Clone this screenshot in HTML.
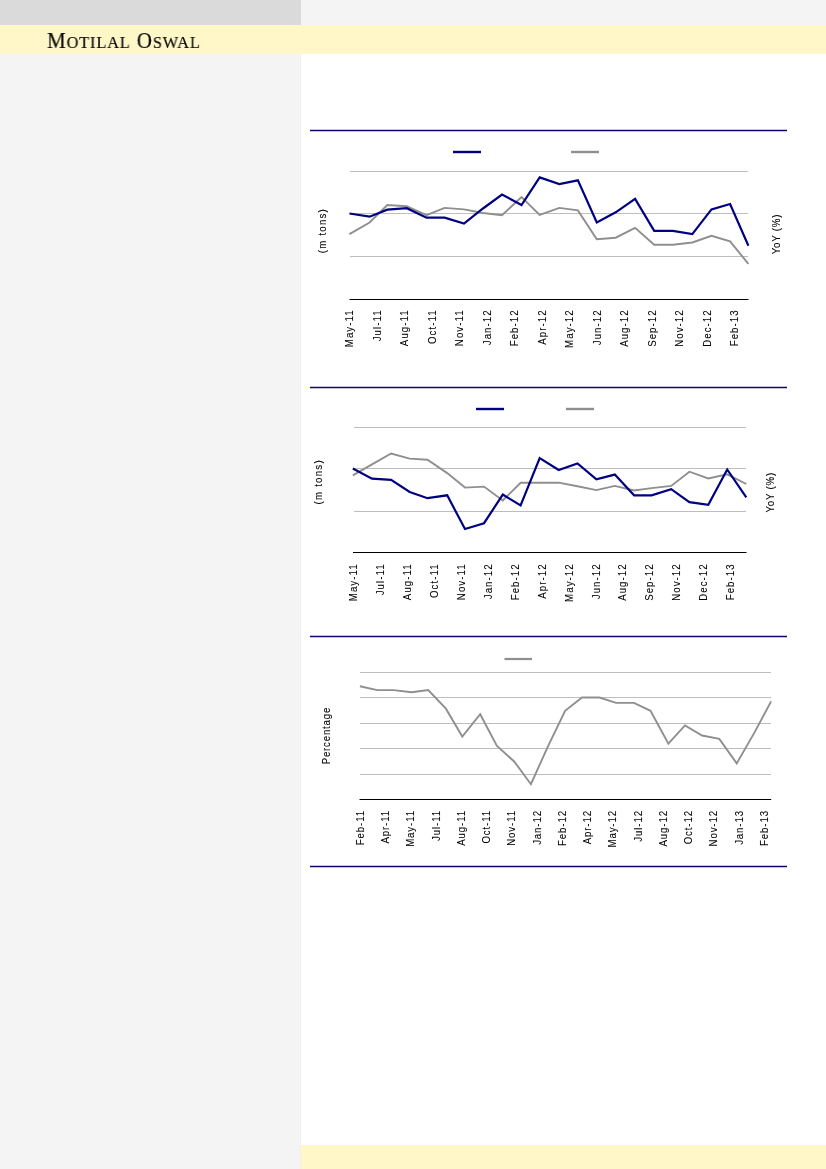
<!DOCTYPE html>
<html><head><meta charset="utf-8">
<style>
html,body{margin:0;padding:0;}
body{width:826px;height:1169px;position:relative;overflow:hidden;background:#fff;font-family:"Liberation Sans", sans-serif;}
.blk{position:absolute;}
#logo{will-change:transform;position:absolute;left:47px;top:25px;height:29px;font-family:"Liberation Serif",serif;color:#0d0b0b;-webkit-text-stroke:0.2px #0d0b0b;white-space:nowrap;}
#logo span{position:absolute;top:0;line-height:1;}
svg{position:absolute;left:0;top:0;}
svg text{font-family:"Liberation Sans", sans-serif;font-size:11px;fill:#000;stroke:#000;stroke-width:0.08px;}
</style></head><body>
<div class="blk" style="left:0;top:0;width:301px;height:1169px;background:#f4f4f4"></div>
<div class="blk" style="left:0;top:0;width:301px;height:25px;background:#dadada"></div>
<div class="blk" style="left:300px;top:54px;width:1px;height:1115px;background:#efefef"></div>
<div class="blk" style="left:301px;top:0;width:525px;height:25px;background:#f4f4f4"></div>
<div class="blk" style="left:0;top:25px;width:826px;height:29px;background:#fff7c8"></div>
<div class="blk" style="left:301px;top:1145px;width:525px;height:24px;background:#fff7c8"></div>
<div id="logo"><span id="lg" style="left:-0.5px;top:5px;font-size:22.3px;letter-spacing:0.9px;transform-origin:0 0;transform:scaleX(0.945)">M<span style="position:static;font-size:17.3px">OTILAL</span> O<span style="position:static;font-size:17.3px">SWAL</span></span></div>
<svg width="826" height="1169" viewBox="0 0 826 1169">
<line x1="310" y1="130.5" x2="787" y2="130.5" stroke="#170070" stroke-width="1.3"/>
<line x1="310" y1="387.5" x2="787" y2="387.5" stroke="#170070" stroke-width="1.3"/>
<line x1="310" y1="636.5" x2="787" y2="636.5" stroke="#170070" stroke-width="1.3"/>
<line x1="310" y1="866.5" x2="787" y2="866.5" stroke="#170070" stroke-width="1.3"/>
<line x1="350" y1="171.5" x2="748" y2="171.5" stroke="#bebebe" stroke-width="1.0"/>
<line x1="350" y1="213.5" x2="748" y2="213.5" stroke="#bebebe" stroke-width="1.0"/>
<line x1="350" y1="256.5" x2="748" y2="256.5" stroke="#bebebe" stroke-width="1.0"/>
<line x1="349.5" y1="299.5" x2="748.5" y2="299.5" stroke="#000" stroke-width="1.15"/>
<polyline points="349.40,234.10 369.60,222.50 387.30,205.00 406.80,206.20 426.50,215.20 444.60,207.90 464.00,209.40 483.00,213.00 502.00,215.20 521.50,197.00 539.70,214.90 559.30,207.90 577.90,210.40 596.80,239.20 615.70,237.70 635.10,227.80 654.20,244.70 672.90,244.70 692.30,242.50 711.50,235.80 730.10,241.40 748.40,263.90" fill="none" stroke="#8f8f8f" stroke-width="1.9" stroke-linejoin="miter" stroke-miterlimit="3"/>
<polyline points="349.40,213.50 369.60,216.70 387.30,209.70 406.80,208.20 426.50,217.70 444.60,217.70 464.00,223.50 483.00,208.50 502.00,194.60 521.50,205.00 539.70,177.40 559.30,184.00 577.90,180.30 596.80,222.50 615.70,212.30 635.10,198.90 654.20,230.90 672.90,230.90 692.30,234.10 711.50,209.40 730.10,204.00 748.40,245.70" fill="none" stroke="#000080" stroke-width="2.2" stroke-linejoin="miter" stroke-miterlimit="3"/>
<line x1="453" y1="152" x2="481" y2="152" stroke="#000080" stroke-width="2.4"/>
<line x1="571" y1="152" x2="599" y2="152" stroke="#8f8f8f" stroke-width="2.4"/>
<line x1="354" y1="427.5" x2="746" y2="427.5" stroke="#bebebe" stroke-width="1.0"/>
<line x1="354" y1="468.5" x2="746" y2="468.5" stroke="#bebebe" stroke-width="1.0"/>
<line x1="354" y1="511.5" x2="746" y2="511.5" stroke="#bebebe" stroke-width="1.0"/>
<line x1="353" y1="552.5" x2="746.5" y2="552.5" stroke="#000" stroke-width="1.15"/>
<polyline points="352.80,475.30 372.00,464.40 391.10,453.50 409.70,458.60 427.50,459.70 447.20,473.10 465.00,487.60 484.00,486.60 502.80,500.40 520.60,482.80 539.70,482.80 558.70,482.60 577.50,486.20 596.40,490.10 614.80,485.90 634.10,490.50 651.60,488.10 671.20,485.90 689.40,471.70 708.30,478.50 727.20,474.30 746.30,484.00" fill="none" stroke="#8f8f8f" stroke-width="1.9" stroke-linejoin="miter" stroke-miterlimit="3"/>
<polyline points="352.80,468.50 372.00,478.60 391.10,479.90 409.70,492.00 427.50,498.20 447.20,495.30 465.00,529.00 484.00,523.20 502.80,494.60 520.60,505.50 539.70,458.10 558.70,470.00 577.50,463.40 596.40,479.40 614.80,474.60 634.10,495.30 651.60,495.30 671.20,489.10 689.40,502.20 708.30,504.80 727.20,469.50 746.30,497.40" fill="none" stroke="#000080" stroke-width="2.2" stroke-linejoin="miter" stroke-miterlimit="3"/>
<line x1="476" y1="409" x2="504" y2="409" stroke="#000080" stroke-width="2.4"/>
<line x1="566" y1="409" x2="594" y2="409" stroke="#8f8f8f" stroke-width="2.4"/>
<line x1="360" y1="672.5" x2="771" y2="672.5" stroke="#bebebe" stroke-width="1.0"/>
<line x1="360" y1="697.5" x2="771" y2="697.5" stroke="#bebebe" stroke-width="1.0"/>
<line x1="360" y1="723.5" x2="771" y2="723.5" stroke="#bebebe" stroke-width="1.0"/>
<line x1="360" y1="748.5" x2="771" y2="748.5" stroke="#bebebe" stroke-width="1.0"/>
<line x1="360" y1="774.5" x2="771" y2="774.5" stroke="#bebebe" stroke-width="1.0"/>
<line x1="359.5" y1="799.5" x2="771.2" y2="799.5" stroke="#000" stroke-width="1.15"/>
<polyline points="359.90,686.20 377.30,690.10 393.60,690.10 411.70,692.30 428.20,690.10 445.90,708.70 462.30,736.60 480.20,714.20 496.80,745.70 514.40,761.70 530.90,784.20 547.60,747.20 565.10,710.80 582.00,697.50 599.40,697.50 616.10,702.90 634.00,702.90 650.50,710.80 668.35,743.70 685.00,725.40 702.10,735.50 719.30,738.90 736.70,763.40 754.40,732.60 771.10,701.40" fill="none" stroke="#8f8f8f" stroke-width="1.9" stroke-linejoin="miter" stroke-miterlimit="3"/>
<line x1="504.5" y1="659" x2="532" y2="659" stroke="#8f8f8f" stroke-width="2.2"/>
</svg>
<svg width="826" height="1169" viewBox="0 0 826 1169" style="will-change:transform">
<text transform="translate(353.28,309.30) rotate(-90) scale(0.88,1)" text-anchor="end" letter-spacing="1.2">May-11</text>
<text transform="translate(380.76,309.30) rotate(-90) scale(0.88,1)" text-anchor="end" letter-spacing="1.2">Jul-11</text>
<text transform="translate(408.24,309.30) rotate(-90) scale(0.88,1)" text-anchor="end" letter-spacing="1.2">Aug-11</text>
<text transform="translate(435.72,309.30) rotate(-90) scale(0.88,1)" text-anchor="end" letter-spacing="1.2">Oct-11</text>
<text transform="translate(463.20,309.30) rotate(-90) scale(0.88,1)" text-anchor="end" letter-spacing="1.2">Nov-11</text>
<text transform="translate(490.68,309.30) rotate(-90) scale(0.88,1)" text-anchor="end" letter-spacing="1.2">Jan-12</text>
<text transform="translate(518.16,309.30) rotate(-90) scale(0.88,1)" text-anchor="end" letter-spacing="1.2">Feb-12</text>
<text transform="translate(545.64,309.30) rotate(-90) scale(0.88,1)" text-anchor="end" letter-spacing="1.2">Apr-12</text>
<text transform="translate(573.12,309.30) rotate(-90) scale(0.88,1)" text-anchor="end" letter-spacing="1.2">May-12</text>
<text transform="translate(600.60,309.30) rotate(-90) scale(0.88,1)" text-anchor="end" letter-spacing="1.2">Jun-12</text>
<text transform="translate(628.08,309.30) rotate(-90) scale(0.88,1)" text-anchor="end" letter-spacing="1.2">Aug-12</text>
<text transform="translate(655.56,309.30) rotate(-90) scale(0.88,1)" text-anchor="end" letter-spacing="1.2">Sep-12</text>
<text transform="translate(683.04,309.30) rotate(-90) scale(0.88,1)" text-anchor="end" letter-spacing="1.2">Nov-12</text>
<text transform="translate(710.52,309.30) rotate(-90) scale(0.88,1)" text-anchor="end" letter-spacing="1.2">Dec-12</text>
<text transform="translate(738.00,309.30) rotate(-90) scale(0.88,1)" text-anchor="end" letter-spacing="1.2">Feb-13</text>
<text transform="translate(325.70,230.60) rotate(-90) scale(0.88,1)" text-anchor="middle" letter-spacing="1.4">(m tons)</text>
<text transform="translate(779.70,234.00) rotate(-90) scale(0.88,1)" text-anchor="middle" letter-spacing="0.9">YoY (%)</text>
<text transform="translate(356.88,563.30) rotate(-90) scale(0.88,1)" text-anchor="end" letter-spacing="1.2">May-11</text>
<text transform="translate(383.84,563.30) rotate(-90) scale(0.88,1)" text-anchor="end" letter-spacing="1.2">Jul-11</text>
<text transform="translate(410.80,563.30) rotate(-90) scale(0.88,1)" text-anchor="end" letter-spacing="1.2">Aug-11</text>
<text transform="translate(437.76,563.30) rotate(-90) scale(0.88,1)" text-anchor="end" letter-spacing="1.2">Oct-11</text>
<text transform="translate(464.72,563.30) rotate(-90) scale(0.88,1)" text-anchor="end" letter-spacing="1.2">Nov-11</text>
<text transform="translate(491.68,563.30) rotate(-90) scale(0.88,1)" text-anchor="end" letter-spacing="1.2">Jan-12</text>
<text transform="translate(518.64,563.30) rotate(-90) scale(0.88,1)" text-anchor="end" letter-spacing="1.2">Feb-12</text>
<text transform="translate(545.60,563.30) rotate(-90) scale(0.88,1)" text-anchor="end" letter-spacing="1.2">Apr-12</text>
<text transform="translate(572.56,563.30) rotate(-90) scale(0.88,1)" text-anchor="end" letter-spacing="1.2">May-12</text>
<text transform="translate(599.52,563.30) rotate(-90) scale(0.88,1)" text-anchor="end" letter-spacing="1.2">Jun-12</text>
<text transform="translate(626.48,563.30) rotate(-90) scale(0.88,1)" text-anchor="end" letter-spacing="1.2">Aug-12</text>
<text transform="translate(653.44,563.30) rotate(-90) scale(0.88,1)" text-anchor="end" letter-spacing="1.2">Sep-12</text>
<text transform="translate(680.40,563.30) rotate(-90) scale(0.88,1)" text-anchor="end" letter-spacing="1.2">Nov-12</text>
<text transform="translate(707.36,563.30) rotate(-90) scale(0.88,1)" text-anchor="end" letter-spacing="1.2">Dec-12</text>
<text transform="translate(734.32,563.30) rotate(-90) scale(0.88,1)" text-anchor="end" letter-spacing="1.2">Feb-13</text>
<text transform="translate(321.70,481.80) rotate(-90) scale(0.88,1)" text-anchor="middle" letter-spacing="1.4">(m tons)</text>
<text transform="translate(773.60,492.30) rotate(-90) scale(0.88,1)" text-anchor="middle" letter-spacing="0.9">YoY (%)</text>
<text transform="translate(363.98,810.00) rotate(-90) scale(0.88,1)" text-anchor="end" letter-spacing="1.0">Feb-11</text>
<text transform="translate(389.22,810.00) rotate(-90) scale(0.88,1)" text-anchor="end" letter-spacing="1.0">Apr-11</text>
<text transform="translate(414.46,810.00) rotate(-90) scale(0.88,1)" text-anchor="end" letter-spacing="1.0">May-11</text>
<text transform="translate(439.70,810.00) rotate(-90) scale(0.88,1)" text-anchor="end" letter-spacing="1.0">Jul-11</text>
<text transform="translate(464.94,810.00) rotate(-90) scale(0.88,1)" text-anchor="end" letter-spacing="1.0">Aug-11</text>
<text transform="translate(490.18,810.00) rotate(-90) scale(0.88,1)" text-anchor="end" letter-spacing="1.0">Oct-11</text>
<text transform="translate(515.42,810.00) rotate(-90) scale(0.88,1)" text-anchor="end" letter-spacing="1.0">Nov-11</text>
<text transform="translate(540.66,810.00) rotate(-90) scale(0.88,1)" text-anchor="end" letter-spacing="1.0">Jan-12</text>
<text transform="translate(565.90,810.00) rotate(-90) scale(0.88,1)" text-anchor="end" letter-spacing="1.0">Feb-12</text>
<text transform="translate(591.14,810.00) rotate(-90) scale(0.88,1)" text-anchor="end" letter-spacing="1.0">Apr-12</text>
<text transform="translate(616.38,810.00) rotate(-90) scale(0.88,1)" text-anchor="end" letter-spacing="1.0">May-12</text>
<text transform="translate(641.62,810.00) rotate(-90) scale(0.88,1)" text-anchor="end" letter-spacing="1.0">Jul-12</text>
<text transform="translate(666.86,810.00) rotate(-90) scale(0.88,1)" text-anchor="end" letter-spacing="1.0">Aug-12</text>
<text transform="translate(692.10,810.00) rotate(-90) scale(0.88,1)" text-anchor="end" letter-spacing="1.0">Oct-12</text>
<text transform="translate(717.34,810.00) rotate(-90) scale(0.88,1)" text-anchor="end" letter-spacing="1.0">Nov-12</text>
<text transform="translate(742.58,810.00) rotate(-90) scale(0.88,1)" text-anchor="end" letter-spacing="1.0">Jan-13</text>
<text transform="translate(767.82,810.00) rotate(-90) scale(0.88,1)" text-anchor="end" letter-spacing="1.0">Feb-13</text>
<text transform="translate(329.90,735.60) rotate(-90) scale(0.88,1)" text-anchor="middle" letter-spacing="0.9">Percentage</text>
</svg>
</body></html>
